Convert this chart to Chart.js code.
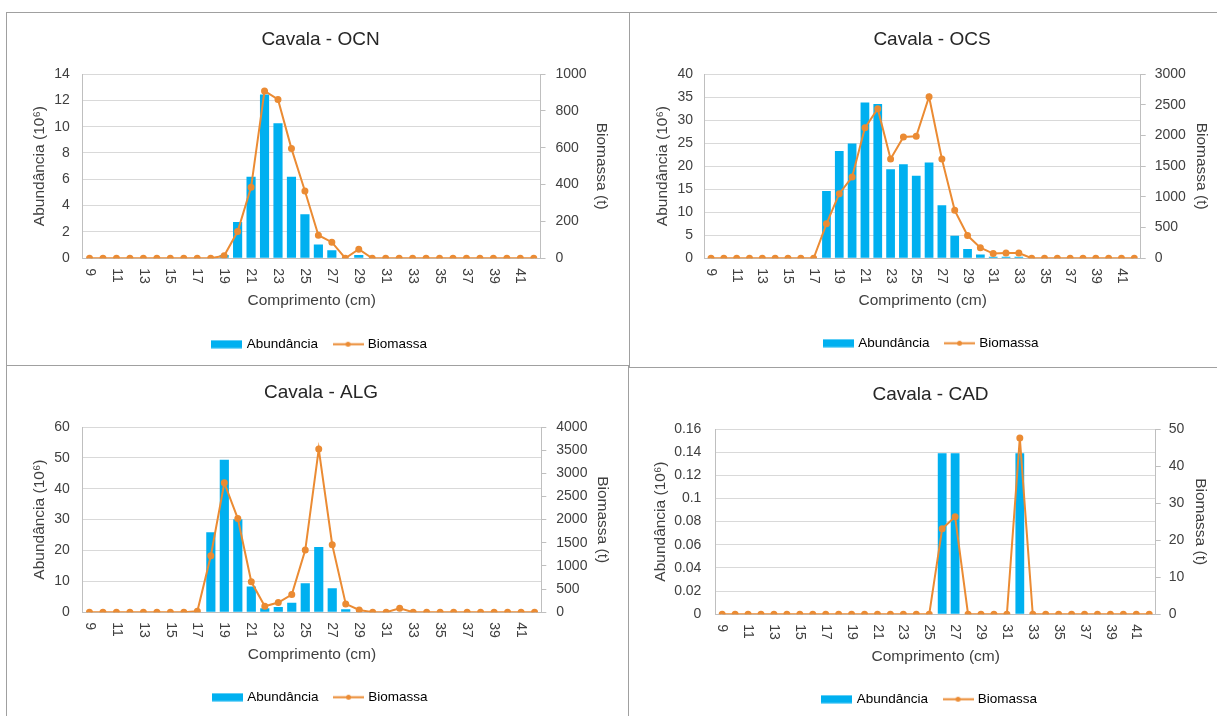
<!DOCTYPE html>
<html>
<head>
<meta charset="utf-8">
<title>Cavala - distribuição de comprimentos</title>
<script src="https://cdn.jsdelivr.net/npm/chart.js@4.4.1/dist/chart.umd.min.js"></script>
<style>
  body { margin: 0; background: #fff; width: 1217px; height: 716px; overflow: hidden; position: relative; }
  .frame { position: absolute; border: 1px solid #a0a0a0; box-sizing: border-box; }
  canvas { position: absolute; }
</style>
</head>
<body>
<div class="frame" style="left:6px;top:12px;width:624px;height:354px"></div>
<div class="frame" style="left:629px;top:12px;width:600px;height:356px"></div>
<div class="frame" style="left:6px;top:365px;width:623px;height:400px"></div>
<div class="frame" style="left:628px;top:367px;width:600px;height:400px"></div>
<canvas id="chartOCN"></canvas>
<canvas id="chartOCS"></canvas>
<canvas id="chartALG"></canvas>
<canvas id="chartCAD"></canvas>
<script>
// Length classes (cm), shared by the four panels
const lengths = [9, 10, 11, 12, 13, 14, 15, 16, 17, 18, 19, 20, 21, 22, 23, 24, 25,
  26, 27, 28, 29, 30, 31, 32, 33, 34, 35, 36, 37, 38, 39, 40, 41, 42];

// Cavala - OCN
const ocnAbundancia = [0, 0, 0, 0, 0, 0, 0, 0, 0, 0, 0.25, 2.75, 6.2, 12.45, 10.25, 6.2, 3.35,
  1.05, 0.6, 0, 0.25, 0, 0, 0, 0, 0, 0, 0, 0, 0, 0, 0, 0, 0];
const ocnBiomassa = [0, 0, 0, 0, 0, 0, 0, 0, 0, 0, 13, 145, 385, 908, 862, 595, 365,
  125, 87, 0, 49, 0, 0, 0, 0, 0, 0, 0, 0, 0, 0, 0, 0, 0];

// Cavala - OCS
const ocsAbundancia = [0, 0, 0, 0, 0, 0, 0, 0, 0, 14.6, 23.3, 24.9, 33.8, 33.5, 19.3, 20.4, 17.9,
  20.8, 11.5, 4.9, 2.0, 0.8, 0.3, 0.3, 0.3, 0, 0, 0, 0, 0, 0, 0, 0, 0];
const ocsBiomassa = [0, 0, 0, 0, 0, 0, 0, 0, 0, 561, 1051, 1323, 2123, 2434, 1617, 1976, 1987,
  2630, 1617, 780, 370, 172, 76, 85, 85, 0, 0, 0, 0, 0, 0, 0, 0, 0];

// Cavala - ALG
const algAbundancia = [0, 0, 0, 0, 0, 0, 0, 0, 0, 25.9, 49.4, 30.1, 8.3, 1.3, 1.7, 3.1, 9.4,
  21.1, 7.8, 1.0, 0, 0, 0, 0, 0, 0, 0, 0, 0, 0, 0, 0, 0, 0];
const algBiomassa = [0, 0, 0, 0, 0, 0, 0, 0, 20, 1220, 2794, 2022, 657, 130, 209, 383, 1343,
  3523, 1458, 180, 50, 0, 0, 87, 0, 0, 0, 0, 0, 0, 0, 0, 0, 0];

// Cavala - CAD
const cadAbundancia = [0, 0, 0, 0, 0, 0, 0, 0, 0, 0, 0, 0, 0, 0, 0, 0, 0,
  0.139, 0.139, 0, 0, 0, 0, 0.139, 0, 0, 0, 0, 0, 0, 0, 0, 0, 0];
const cadBiomassa = [0, 0, 0, 0, 0, 0, 0, 0, 0, 0, 0, 0, 0, 0, 0, 0, 0,
  23.1, 26.3, 0, 0, 0, 0, 47.6, 0, 0, 0, 0, 0, 0, 0, 0, 0, 0];

// Axis ranges: [max, step] for abundance (left) and biomass (right)
const ocnLeftAxis = [14, 2], ocnRightAxis = [1000, 200];
const ocsLeftAxis = [40, 5], ocsRightAxis = [3000, 500];
const algLeftAxis = [60, 10], algRightAxis = [4000, 500];
const cadLeftAxis = [0.16, 0.02], cadRightAxis = [50, 10];

const BLUE = '#00B0F0';
const ORANGE = '#EB8B33';
const FONT = '"Liberation Sans", Arial, sans-serif';
const TEXT = '#404040';

// font sizes (px)
const TITLE_SIZE = 19, AXIS_TITLE_SIZE = 15.5, TICK_SIZE = 14, LEGEND_SIZE = 13.5;
const LEGEND_PAD = 17;

// Small swatches for the legend (bar box and line with marker)
function legendSwatch(kind) {
  const cv = document.createElement('canvas');
  cv.width = 31; cv.height = 9;
  const g = cv.getContext('2d');
  if (kind === 'bar') {
    g.fillStyle = BLUE;
    g.fillRect(0, 0.5, 31, 8);
  } else {
    g.strokeStyle = ORANGE;
    g.lineWidth = 2;
    g.beginPath(); g.moveTo(0, 4.5); g.lineTo(31, 4.5); g.stroke();
    g.fillStyle = ORANGE;
    g.beginPath(); g.arc(15.5, 4.5, 2.5, 0, Math.PI * 2); g.fill();
  }
  return cv;
}
const barSwatch = legendSwatch('bar');
const lineSwatch = legendSwatch('line');

// Category labels drawn rotated clockwise (reading top to bottom), every other class
const verticalLabels = {
  id: 'verticalLabels',
  afterDraw(chart) {
    const xs = chart.scales.x;
    const c = chart.ctx;
    c.save();
    c.font = TICK_SIZE + 'px ' + FONT;
    c.fillStyle = TEXT;
    c.textAlign = 'left';
    c.textBaseline = 'middle';
    lengths.forEach((len, i) => {
      if (i % 2 !== 0) return;
      c.save();
      c.translate(xs.getPixelForValue(i), xs.top + 10);
      c.rotate(Math.PI / 2);
      c.fillText(String(len), 0, 0);
      c.restore();
    });
    c.restore();
  }
};

const plainNumber = v => String(Number(v.toFixed(4)));

function makeChart(id, titleText, abund, bio, leftAxis, rightAxis, box) {
  // work out the canvas so that the plot area lands where it is in the picture
  const halfAxisTitle = AXIS_TITLE_SIZE * 1.2 / 2;
  const lw = box.leftTitleGap + 4 + halfAxisTitle;
  const rw = box.rightTitleGap + 4 + halfAxisTitle;
  const left = box.plotLeft - lw;
  const top = box.plotTop - 52;
  const titleLine = TITLE_SIZE * 1.2;
  const titlePadTop = 52 - 34 - titleLine / 2;
  const legendCenter = LEGEND_PAD + LEGEND_SIZE / 2;
  const legendHeight = LEGEND_SIZE + LEGEND_PAD + 10;
  const xHeight = box.legendY - legendCenter - box.plotBottom;
  const bottom = box.legendY - legendCenter + legendHeight;
  const el = document.getElementById(id);
  el.style.left = left + 'px';
  el.style.top = top + 'px';
  el.width = Math.round(box.plotRight + rw - left);
  el.height = Math.round(bottom - top);

  return new Chart(el, {
    data: {
      labels: lengths,
      datasets: [
        { type: 'bar', label: 'Abundância', data: abund, backgroundColor: BLUE, yAxisID: 'y',
          order: 2, barPercentage: 0.68, categoryPercentage: 1 },
        { type: 'line', label: 'Biomassa', data: bio, borderColor: ORANGE, backgroundColor: ORANGE,
          borderWidth: 2, pointRadius: 2.5, pointHoverRadius: 2.5, yAxisID: 'y1', order: 1, tension: 0 }
      ]
    },
    options: {
      responsive: false,
      animation: false,
      layout: { padding: 0 },
      plugins: {
        tooltip: { enabled: false },
        title: {
          display: true, text: titleText, color: '#262626',
          font: { family: FONT, size: TITLE_SIZE, weight: 'normal' },
          padding: { top: titlePadTop, bottom: 52 - titlePadTop - titleLine }
        },
        legend: {
          position: 'bottom',
          labels: {
            usePointStyle: true, pointStyleWidth: 26, padding: LEGEND_PAD, color: TEXT,
            font: { family: FONT, size: LEGEND_SIZE },
            generateLabels: () => [
              { text: 'Abundância', pointStyle: barSwatch, fillStyle: BLUE, strokeStyle: BLUE, lineWidth: 0, hidden: false, datasetIndex: 0 },
              { text: 'Biomassa', pointStyle: lineSwatch, fillStyle: ORANGE, strokeStyle: ORANGE, lineWidth: 0, hidden: false, datasetIndex: 1 }
            ]
          }
        }
      },
      scales: {
        x: {
          grid: { display: false },
          border: { color: '#bfbfbf' },
          ticks: { display: false },
          title: {
            display: true, text: 'Comprimento (cm)', color: TEXT,
            font: { family: FONT, size: AXIS_TITLE_SIZE },
            padding: { top: 4, bottom: xHeight - 42 - halfAxisTitle }
          },
          afterFit: s => { s.height = xHeight; }
        },
        y: {
          position: 'left', min: 0, max: leftAxis[0],
          ticks: { stepSize: leftAxis[1], padding: box.leftTickPad, color: TEXT,
            font: { family: FONT, size: TICK_SIZE }, callback: plainNumber },
          grid: { color: '#d9d9d9', drawTicks: false },
          border: { color: '#bfbfbf' },
          title: { display: true, text: 'Abundância (10⁶)', color: TEXT,
            font: { family: FONT, size: AXIS_TITLE_SIZE }, padding: { top: 4, bottom: 4 } },
          afterFit: s => { s.width = lw; }
        },
        y1: {
          position: 'right', min: 0, max: rightAxis[0],
          ticks: { stepSize: rightAxis[1], padding: box.rightTickPad, color: TEXT,
            font: { family: FONT, size: TICK_SIZE }, callback: plainNumber },
          grid: { drawOnChartArea: false, drawTicks: true, tickLength: 5, color: '#bfbfbf' },
          border: { color: '#bfbfbf' },
          title: { display: true, text: 'Biomassa (t)', color: TEXT,
            font: { family: FONT, size: AXIS_TITLE_SIZE }, padding: { top: 4, bottom: 4 } },
          afterFit: s => { s.width = rw; }
        }
      }
    },
    plugins: [verticalLabels]
  });
}

makeChart('chartOCN', 'Cavala - OCN', ocnAbundancia, ocnBiomassa, ocnLeftAxis, ocnRightAxis,
  { plotLeft: 82.5, plotRight: 540.2, plotTop: 74, plotBottom: 258, leftTitleGap: 43.5, rightTitleGap: 61.2,
    legendY: 344, leftTickPad: 13, rightTickPad: 10 });
makeChart('chartOCS', 'Cavala - OCS', ocsAbundancia, ocsBiomassa, ocsLeftAxis, ocsRightAxis,
  { plotLeft: 704.5, plotRight: 1140.3, plotTop: 74, plotBottom: 258, leftTitleGap: 42.3, rightTitleGap: 61,
    legendY: 343, leftTickPad: 11.6, rightTickPad: 9 });
makeChart('chartALG', 'Cavala - ALG', algAbundancia, algBiomassa, algLeftAxis, algRightAxis,
  { plotLeft: 82.4, plotRight: 541.2, plotTop: 427, plotBottom: 612, leftTitleGap: 43.4, rightTitleGap: 61.4,
    legendY: 697, leftTickPad: 13, rightTickPad: 10 });
makeChart('chartCAD', 'Cavala - CAD', cadAbundancia, cadBiomassa, cadLeftAxis, cadRightAxis,
  { plotLeft: 715.2, plotRight: 1155.4, plotTop: 429, plotBottom: 614, leftTitleGap: 55.4, rightTitleGap: 45,
    legendY: 699, leftTickPad: 14.3, rightTickPad: 8 });
</script>
</body>
</html>
